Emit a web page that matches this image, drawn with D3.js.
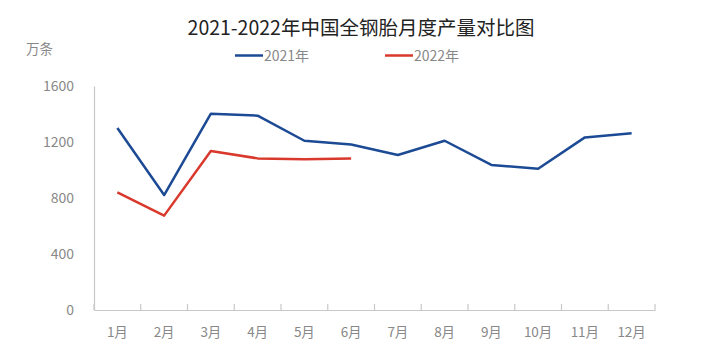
<!DOCTYPE html>
<html><head><meta charset="utf-8">
<script src="https://cdn.jsdelivr.net/npm/d3@7"></script>
<style>body{margin:0;background:#fff;font-family:"Noto Sans CJK SC","Microsoft YaHei",sans-serif;}</style>
</head><body><svg id="c" width="709" height="358"></svg>
<script>
const months = ["1月","2月","3月","4月","5月","6月","7月","8月","9月","10月","11月","12月"];
const v2021 = [1300, 821, 1402, 1388, 1209, 1182, 1107, 1209, 1036, 1009, 1233, 1262];
const v2022 = [840, 674, 1136, 1083, 1076, 1083];
const yTicks = [0, 400, 800, 1200, 1600];
const seriesNames = ["2021年", "2022年"];
const colors = ["#1c4a94", "#d9392c"];

const svg = d3.select("#c");
const font = '"Noto Sans CJK SC", sans-serif';
const x = d3.scaleBand().domain(months).range([94, 655]);
const y = d3.scaleLinear().domain([0, 1600]).range([310, 86]);

svg.append("text").attr("x", 361).attr("y", 35).attr("text-anchor","middle")
  .attr("font-family", font).attr("font-size", 19.5).attr("fill","#222").text("2021-2022年中国全钢胎月度产量对比图");
svg.append("text").attr("x", 26).attr("y", 54).attr("font-family", font).attr("font-size", 13.5).attr("fill","#888").text("万条");

// legend
const legX = [235, 385];
seriesNames.forEach((n,i)=>{
  svg.append("line").attr("x1",legX[i]).attr("x2",legX[i]+28).attr("y1",55.5).attr("y2",55.5).attr("stroke",colors[i]).attr("stroke-width",2.5);
  svg.append("text").attr("x",legX[i]+29).attr("y",60.5).attr("font-family",font).attr("font-size",14).attr("fill","#888").text(n);
});

// y axis
const ya = svg.append("g").attr("transform","translate(94,0)").call(d3.axisLeft(y).tickValues(yTicks).tickFormat(d3.format("d")).tickSize(0).tickPadding(20));
ya.select(".domain").attr("stroke","#c8c8c8").attr("stroke-width",1.2);
ya.selectAll("text").attr("font-family",font).attr("font-size",14).attr("fill","#888");

// x axis
const xa = svg.append("g").attr("transform","translate(0,310)").call(d3.axisBottom(x).tickSize(0).tickPadding(17));
xa.select(".domain").attr("stroke","#c8c8c8").attr("stroke-width",1.2);
xa.selectAll("text").attr("font-family",font).attr("font-size",13.5).attr("fill","#888");
const bounds = months.map(m=>x(m)).concat([x.range()[1]]);
svg.append("g").selectAll("line").data(bounds).join("line")
  .attr("x1",d=>d).attr("x2",d=>d).attr("y1",304).attr("y2",310).attr("stroke","#c8c8c8").attr("stroke-width",1.2);

const line = d3.line().x((d,i)=>x(months[i])+x.bandwidth()/2).y(d=>y(d));
[v2021, v2022].forEach((s,i)=>{
  svg.append("path").datum(s).attr("d",line).attr("fill","none").attr("stroke",colors[i]).attr("stroke-width",2.5).attr("stroke-linejoin","round");
});
</script></body></html>
